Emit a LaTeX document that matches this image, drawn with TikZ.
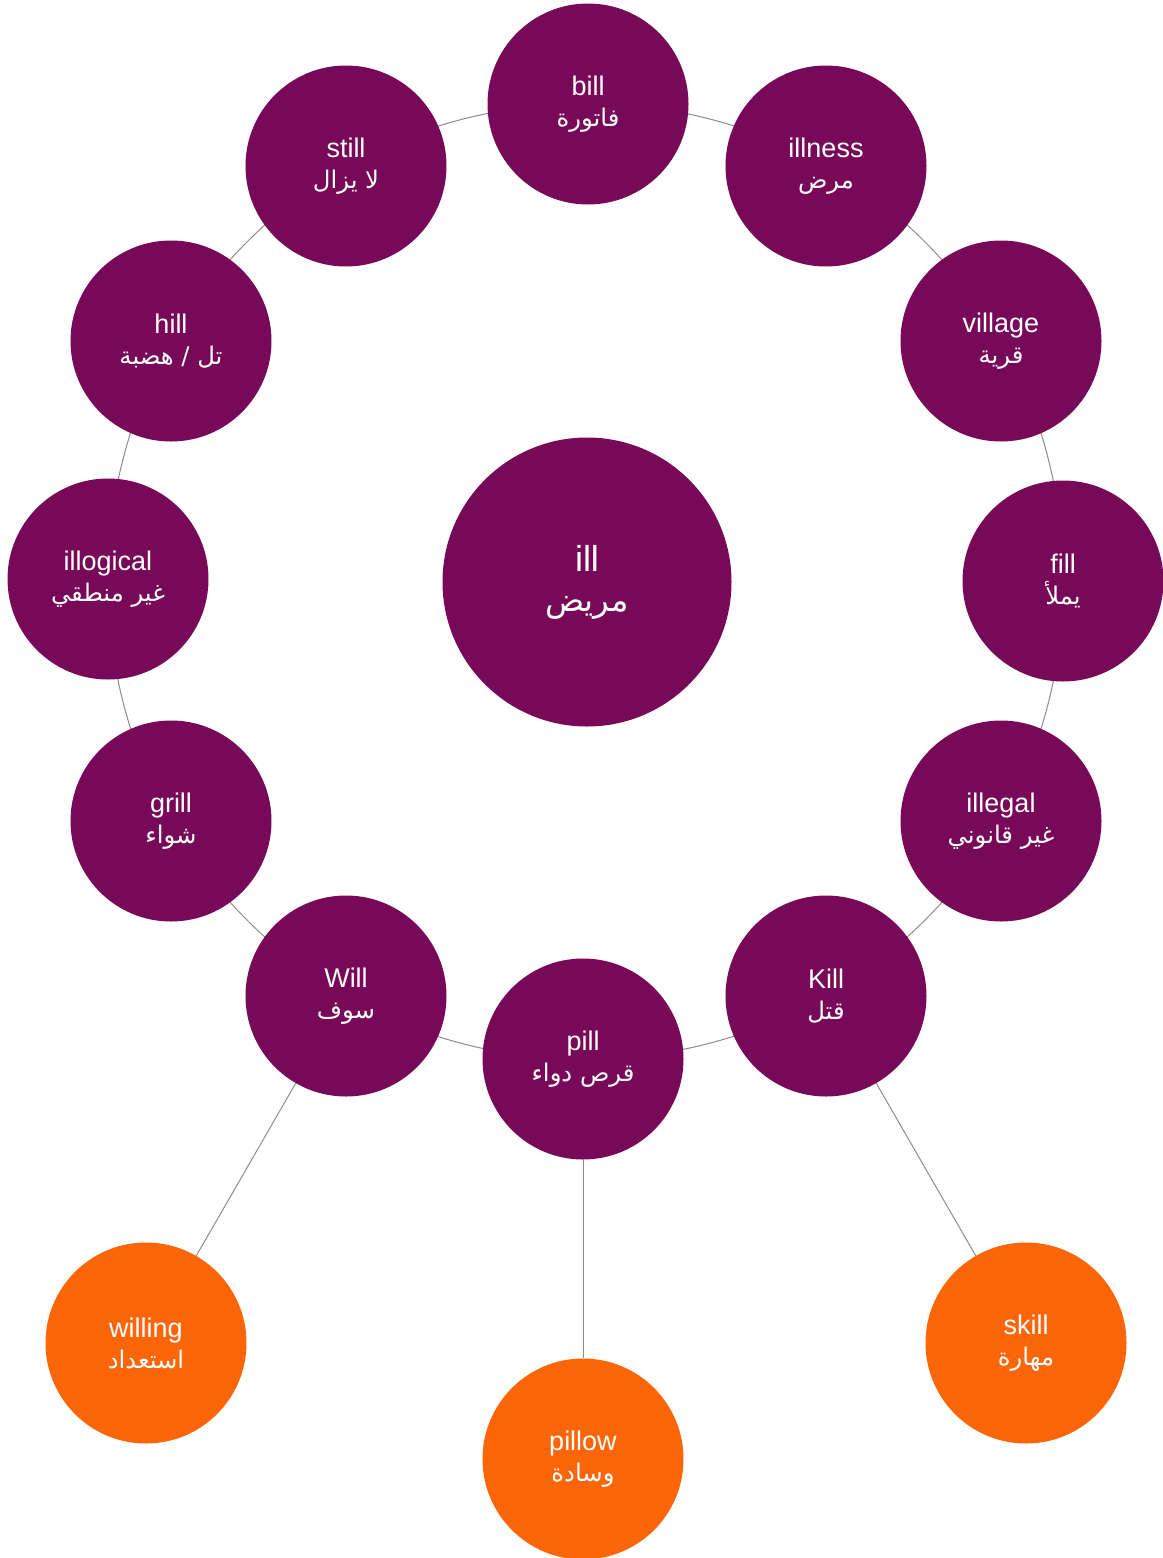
\documentclass[tikz,border=0pt]{standalone}
\usepackage{fontspec}
\usetikzlibrary{backgrounds}
\setmainfont{Liberation Sans}
\newfontfamily\arabicfont[Script=Arabic,Scale=0.9]{DejaVu Sans}
\TeXXeTstate=1
\newcommand{\artxt}[1]{{\arabicfont\beginR #1\endR}}
\definecolor{plum}{RGB}{120,8,88}
\definecolor{tang}{RGB}{252,101,8}
\definecolor{conn}{RGB}{140,140,140}
\tikzset{
  word/.style={circle, minimum size=201pt, inner sep=0pt, text=white, align=center,
    font=\fontsize{27}{31}\selectfont},
  ringword/.style={word, fill=plum},
  outerword/.style={word, fill=tang},
  hub/.style={circle, minimum size=289pt, inner sep=0pt, fill=plum, text=white, align=center,
    font=\fontsize{36}{40}\selectfont},
  link/.style={draw=conn, line width=1pt},
}
\begin{document}
\begin{tikzpicture}[x=1pt,y=-1pt]
\useasboundingbox (0,0) rectangle (1162,1558);
\node[hub] (ill) at (587,582) {ill\\\artxt{مريض}};
\node[ringword] (bill) at (588,104) {bill\\\artxt{فاتورة}};
\node[ringword] (illness) at (826,166) {illness\\\artxt{مرض}};
\node[ringword] (village) at (1001,341) {village\\\artxt{قرية}};
\node[ringword] (fill) at (1063,581) {fill\\\artxt{يملأ}};
\node[ringword] (illegal) at (1001,821) {illegal\\\artxt{غير قانوني}};
\node[ringword] (kill) at (826,996) {Kill\\\artxt{قتل}};
\node[ringword] (pill) at (583,1059) {pill\\\artxt{قرص دواء}};
\node[ringword] (will) at (346,996) {Will\\\artxt{سوف}};
\node[ringword] (grill) at (171,821) {grill\\\artxt{شواء}};
\node[ringword] (illogical) at (108,579) {illogical\\\artxt{غير منطقي}};
\node[ringword] (hill) at (171,341) {hill\\\artxt{تل / هضبة}};
\node[ringword] (still) at (346,166) {still\\\artxt{لا يزال}};
\node[outerword] (willing) at (146,1343) {willing\\\artxt{استعداد}};
\node[outerword] (pillow) at (583,1459) {pillow\\\artxt{وسادة}};
\node[outerword] (skill) at (1026,1343) {skill\\\artxt{مهارة}};
\begin{scope}[on background layer]
\foreach \a/\b in {bill/illness, illness/village, village/fill, fill/illegal,
  illegal/kill, kill/pill, pill/will, will/grill, grill/illogical,
  illogical/hill, hill/still, still/bill}
  \draw[link] (\a.center) to[bend left=15, looseness=0.866] (\b.center);
\end{scope}
\draw[link] (will) -- (willing);
\draw[link] (pill) -- (pillow);
\draw[link] (kill) -- (skill);
\end{tikzpicture}
\end{document}
